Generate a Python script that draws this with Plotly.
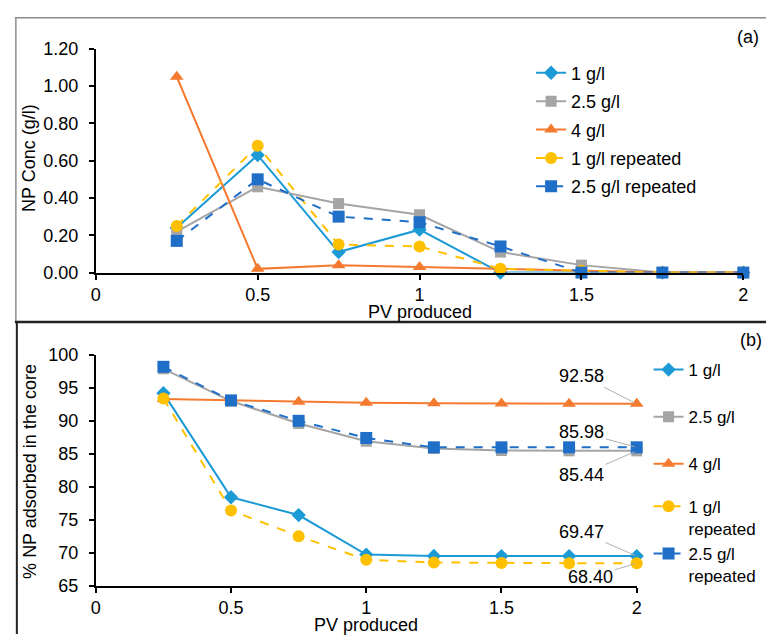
import plotly.graph_objects as go

# ---------------- data ----------------
pv = [0.25, 0.5, 0.75, 1.0, 1.25, 1.5, 1.75, 2.0]

# (a) NP concentration in effluent (g/l)
conc_1 = [0.24, 0.63, 0.11, 0.23, 0.00, 0.00, 0.00, 0.00]
conc_25 = [0.22, 0.46, 0.37, 0.31, 0.11, 0.04, 0.00, 0.00]
conc_4 = [1.05, 0.02, 0.04, 0.03, 0.02, 0.01, 0.00, 0.00]
conc_1r = [0.25, 0.68, 0.15, 0.14, 0.02, 0.01, 0.00, 0.00]
conc_25r = [0.17, 0.50, 0.30, 0.27, 0.14, 0.00, 0.00, 0.00]

# (b) % NP adsorbed in the core
ads_1 = [94.2, 78.4, 75.7, 69.7, 69.5, 69.48, 69.47, 69.47]
ads_25 = [97.9, 93.0, 89.6, 86.9, 85.8, 85.5, 85.45, 85.44]
ads_4 = [93.3, 93.1, 92.9, 92.75, 92.68, 92.62, 92.6, 92.58]
ads_1r = [93.4, 76.4, 72.5, 68.9, 68.5, 68.42, 68.4, 68.4]
ads_25r = [98.2, 93.1, 90.0, 87.4, 85.98, 85.98, 85.98, 85.98]

names_a = ["1 g/l", "2.5 g/l", "4 g/l", "1 g/l repeated", "2.5 g/l repeated"]
names_b = ["1 g/l", "2.5 g/l", "4 g/l", "1 g/l<br>repeated", "2.5 g/l<br>repeated"]
x_ticks = [0, 0.5, 1, 1.5, 2]
x_ticktext = ["0", "0.5", "1", "1.5", "2"]
y_ticks_a = [0, 0.2, 0.4, 0.6, 0.8, 1.0, 1.2]
y_ticks_b = [65, 70, 75, 80, 85, 90, 95, 100]
x_title = "PV produced"
y_title_a = "NP Conc (g/l)"
y_title_b = "% NP adsorbed in the core"

# ---------------- styles ----------------
FONT = "Liberation Sans, Arial, sans-serif"
styles = [
    dict(color="#1b9ad6", symbol="diamond", size=11, dash="solid"),
    dict(color="#a5a5a5", symbol="square", size=11, dash="solid"),
    dict(color="#f47a2f", symbol="triangle-up", size=12, dash="solid"),
    dict(color="#ffc000", symbol="circle", size=12, dash="dash"),
    dict(color="#1f6fc8", symbol="square", size=12, dash="dash"),
]

fig = go.Figure()

series_a = [conc_1, conc_25, conc_4, conc_1r, conc_25r]
series_b = [ads_1, ads_25, ads_4, ads_1r, ads_25r]
legends_b = ["legend2", "legend2", "legend2", "legend3", "legend3"]

for i, (ys, nm, st) in enumerate(zip(series_a, names_a, styles)):
    fig.add_trace(go.Scatter(
        x=pv, y=ys, name=nm, mode="lines+markers", cliponaxis=False,
        line=dict(color=st["color"], width=2, dash=st["dash"]),
        marker=dict(symbol=st["symbol"], size=st["size"], color=st["color"]),
        xaxis="x", yaxis="y", legend="legend", legendgroup="a%d" % i,
    ))

for i, (ys, nm, st, lg) in enumerate(zip(series_b, names_b, styles, legends_b)):
    fig.add_trace(go.Scatter(
        x=pv, y=ys, name=nm, mode="lines+markers", cliponaxis=False,
        line=dict(color=st["color"], width=2, dash=st["dash"]),
        marker=dict(symbol=st["symbol"], size=st["size"], color=st["color"]),
        xaxis="x2", yaxis="y2", legend=lg, legendgroup="b%d" % i,
    ))

W, H = 771, 644


def px(v):
    return v / W


def py(v):
    return 1 - v / H


axis_common = dict(
    showgrid=False, zeroline=False, showline=True, linecolor="black", linewidth=2,
    ticks="outside", tickcolor="black", tickwidth=2, ticklen=5,
    tickfont=dict(size=18, color="black", family=FONT),
)

fig.update_layout(
    width=W, height=H,
    margin=dict(l=0, r=0, t=0, b=0),
    paper_bgcolor="white", plot_bgcolor="white",
    font=dict(family=FONT, size=18, color="black"),
    xaxis=dict(domain=[px(92), px(748)], range=[0, 2], tickvals=x_ticks,
               ticktext=x_ticktext, anchor="y", ticklabelstandoff=0,
               **axis_common),
    yaxis=dict(domain=[py(271), py(40)], range=[0, 1.2], tickvals=y_ticks_a,
               tickformat=".2f", anchor="x", ticklabelstandoff=7,
               **axis_common),
    xaxis2=dict(domain=[px(92), px(640)], range=[0, 2], tickvals=x_ticks,
                ticktext=x_ticktext, anchor="y2", ticklabelstandoff=0,
                **axis_common),
    yaxis2=dict(domain=[py(594), py(356)], range=[65, 100], tickvals=y_ticks_b,
                anchor="x2", ticklabelstandoff=7, **axis_common),
    legend=dict(x=px(533), y=py(46), xanchor="left", yanchor="top",
                bgcolor="rgba(0,0,0,0)", font=dict(size=18),
                tracegroupgap=2),
    legend2=dict(x=px(652), y=py(353), xanchor="left", yanchor="top",
                 bgcolor="rgba(0,0,0,0)", font=dict(size=17),
                 tracegroupgap=22, valign="top"),
    legend3=dict(x=px(652), y=py(494), xanchor="left", yanchor="top",
                 bgcolor="rgba(0,0,0,0)", font=dict(size=17),
                 tracegroupgap=0, valign="top"),
    showlegend=True,
)

# axis titles
title_specs = [
    (x_title, px(420), py(312), 0),
    (x_title, px(366), py(635), 0),
    (y_title_a, px(25), py(153), -90),
    (y_title_b, px(26), py(476), -90),
]
for txt, xx, yy, ang in title_specs:
    fig.add_annotation(text=txt, xref="paper", yref="paper", x=xx, y=yy,
                       xanchor="center", yanchor="middle", textangle=ang,
                       showarrow=False, font=dict(size=18, color="black"))

# panel labels
fig.add_annotation(text="(a)", xref="paper", yref="paper", x=px(766), y=py(28),
                   xanchor="right", yanchor="middle", showarrow=False,
                   font=dict(size=18))
fig.add_annotation(text="(b)", xref="paper", yref="paper", x=px(769), y=py(341),
                   xanchor="right", yanchor="middle", showarrow=False,
                   font=dict(size=18))

# data labels on the final points of panel (b)
labels = [
    (ads_4, -55, -28),
    (ads_25r, -55, -15),
    (ads_25, -55, 24),
    (ads_1, -55, -24),
    (ads_1r, -46, 14),
]
for ys, ax, ay in labels:
    fig.add_annotation(
        x=pv[-1], y=ys[-1], xref="x2", yref="y2", text="%.2f" % ys[-1],
        showarrow=True, arrowhead=0, arrowwidth=1, arrowcolor="#b0b0b0",
        ax=ax, ay=ay, standoff=2, font=dict(size=18, color="black"),
    )

# panel frames
frame = [
    dict(x0=px(10), x1=1, y0=py(8), y1=py(8), line=dict(color="#8c8c8c", width=1.5)),
    dict(x0=px(11), x1=px(11), y0=py(8), y1=py(322), line=dict(color="#8c8c8c", width=1.5)),
    dict(x0=px(10), x1=1, y0=py(322), y1=py(322), line=dict(color="#222222", width=2.5)),
    dict(x0=px(12), x1=px(12), y0=py(322), y1=0, line=dict(color="#222222", width=2)),
]
for s in frame:
    fig.add_shape(type="line", xref="paper", yref="paper", **s)

fig.write_html(
    "out.html",
    config={"displayModeBar": False},
    post_script="document.body.style.margin='0';document.body.style.overflow='hidden';",
)
